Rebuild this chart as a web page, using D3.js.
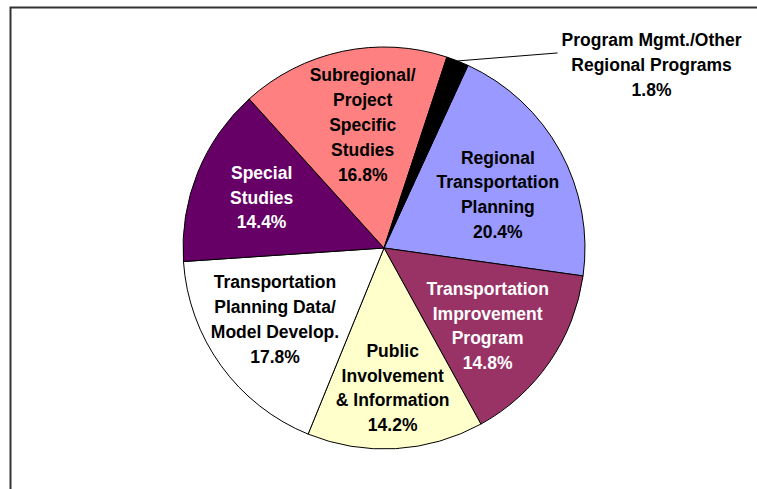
<!DOCTYPE html>
<html>
<head>
<meta charset="utf-8">
<script src="https://cdn.jsdelivr.net/npm/d3@7"></script>
<style>
  html, body { margin: 0; padding: 0; background: #fff; }
  svg { display: block; font-family: "Liberation Sans", Arial, sans-serif; }
</style>
</head>
<body>
<svg id="chart"></svg>
<script>
// Slices, clockwise starting just right of 12 o'clock
const categories = [
  ['Regional', 'Transportation', 'Planning'],
  ['Transportation', 'Improvement', 'Program'],
  ['Public', 'Involvement', '& Information'],
  ['Transportation', 'Planning Data/', 'Model Develop.'],
  ['Special', 'Studies'],
  ['Subregional/', 'Project', 'Specific', 'Studies'],
  ['Program Mgmt./Other', 'Regional Programs']
];
const values = [20.4, 14.8, 14.2, 17.8, 14.4, 16.8, 1.8];
const sliceColors = ['#9999ff', '#993366', '#ffffcc', '#ffffff', '#660066', '#ff8080', '#000000'];
const labelColors = ['#000', '#fff', '#000', '#000', '#fff', '#000', '#000'];
const outside = [false, false, false, false, false, false, true];

const config = {
  width: 757,
  height: 489,
  cx: 384,
  cy: 248,
  radius: 201,
  startDeg: 24.7,
  labelRadius: 132,
  lineHeight: 24.8,
  fontSize: 17.5,
  // small hand nudges of the label blocks, as in the original layout
  labelNudge: [[-2, 10], [-5, 3], [1, 8], [-2, -6], [0, -1], [6, 6], [0, 0]]
};

const svg = d3.select('#chart')
  .attr('width', config.width)
  .attr('height', config.height);

// chart frame (top and left edges visible)
svg.append('path')
  .attr('d', `M10.5,${config.height} L10.5,7.5 L${config.width},7.5`)
  .attr('fill', 'none')
  .attr('stroke', '#333')
  .attr('stroke-width', 2);

const g = svg.append('g')
  .attr('transform', `translate(${config.cx},${config.cy})`);

const start = config.startDeg * Math.PI / 180;
const pie = d3.pie()
  .sort(null)
  .value(d => d)
  .startAngle(start)
  .endAngle(start + 2 * Math.PI);

const arcs = pie(values);

const arc = d3.arc()
  .innerRadius(0)
  .outerRadius(config.radius);

const labelArc = d3.arc()
  .innerRadius(config.labelRadius)
  .outerRadius(config.labelRadius);

g.selectAll('.slice')
  .data(arcs)
  .join('path')
  .attr('class', 'slice')
  .attr('d', arc)
  .attr('fill', (d, i) => sliceColors[i])
  .attr('stroke', '#000')
  .attr('stroke-width', 1);

// labels
arcs.forEach((d, i) => {
  const lines = categories[i].concat([values[i].toFixed(1) + '%']);
  let x, y;
  if (!outside[i]) {
    [x, y] = labelArc.centroid(d);
  } else {
    // leader line from the slice edge to the label
    const mid = (d.startAngle + d.endAngle) / 2;
    const px = config.radius * Math.sin(mid);
    const py = -config.radius * Math.cos(mid);
    const ex = px + 100, ey = py - 8;
    g.append('line')
      .attr('x1', px).attr('y1', py)
      .attr('x2', ex).attr('y2', ey)
      .attr('stroke', '#000')
      .attr('stroke-width', 1);
    x = ex + 94;
    y = ey + 12;
  }
  x += config.labelNudge[i][0];
  y += config.labelNudge[i][1];
  const text = g.append('text')
    .attr('text-anchor', 'middle')
    .attr('font-size', config.fontSize)
    .attr('font-weight', 'bold')
    .attr('fill', labelColors[i]);
  const top = y - (lines.length - 1) * config.lineHeight / 2;
  lines.forEach((ln, k) => {
    text.append('tspan')
      .attr('x', x)
      .attr('y', top + k * config.lineHeight)
      .attr('dy', '0.35em')
      .text(ln);
  });
});
</script>
</body>
</html>
